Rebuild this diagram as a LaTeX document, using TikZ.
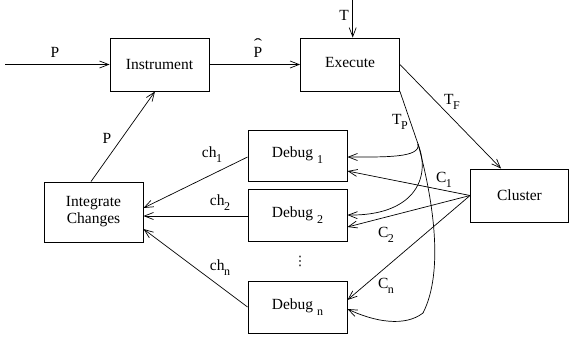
\documentclass[tikz,border=0pt]{standalone}
\usepackage{fontspec}
\usepackage{graphicx}
\setmainfont{Liberation Serif}
\newfontfamily\dvsans{DejaVu Sans}
\usetikzlibrary{arrows.meta,calc}
\newcommand{\lsub}[2]{#1\kern-0.5pt\raisebox{-5pt}{\fontsize{12}{12}\selectfont #2}}
\newcommand{\dsub}[1]{Debug\ \raisebox{-6pt}{\fontsize{12}{12}\selectfont #1}}
\begin{document}
\begin{tikzpicture}[x=1pt,y=-1pt,
  every node/.style={font=\fontsize{15.5}{18}\selectfont},
  box/.style={draw,line width=0.9pt,minimum width=99pt,minimum height=53pt,inner sep=0pt,align=center},
  conn/.style={line width=0.7pt},
  arr/.style={conn,-{Straight Barb[length=9pt,width=7pt]}},
  lab/.style={inner sep=0pt}]
\useasboundingbox (0,0) rectangle (570,341);
\node[box] (inst) at (159.5,64.5) {Instrument};
\node[box] (exec) at (350,64.5) {\raisebox{4pt}{Execute}};
\node[box,minimum width=98pt] (clu) at (519.5,195.5) {Cluster};
\node[box,minimum height=51pt] (d1) at (297.5,155.5) {\dsub{1}};
\node[box,minimum height=52pt] (d2) at (297.5,215) {\dsub{2}};
\node[box,minimum height=52pt] (dn) at (297.5,307) {\dsub{n}};
\node[box,minimum height=60pt] (integ) at (93.5,212) {Integrate\\[-1pt]Changes};
\node[lab] (dots) at (300,261) {\dvsans\fontsize{13}{13}\selectfont ⋮};

\coordinate (in) at (5,64.5);
\coordinate (tin) at (352.7,0);
\coordinate (tp) at (418,144);

\draw[arr] (in) -- (inst.west);
\draw[arr] (inst.east) -- (exec.west);
\draw[arr] (tin) -- (tin |- exec.north);
\draw[arr] (exec.east) -- ([xshift=31pt]clu.north west);
\draw[arr] ([xshift=-2.5pt]integ.north) -- ([xshift=-4.5pt]inst.south);

\draw[arr] ([yshift=-1.5pt]d1.west) -- ([yshift=4pt]integ.east);
\draw[arr] ([yshift=-1pt]d2.west) -- ([yshift=-1pt]d2.west -| integ.east);
\draw[arr] (dn.west) -- ([yshift=-17pt]integ.east);

\draw[arr] (clu.west) -- ([yshift=-15.5pt]d1.east);
\draw[arr] (clu.west) -- ([yshift=-12pt]d2.east);
\draw[arr] (clu.west) -- ([yshift=7pt]dn.east);

\draw[conn] (exec.south east) -- (tp);
\draw[arr] (tp) .. controls (421,158) and (385,157) .. ([yshift=-1.5pt]d1.east);
\draw[arr] (tp) .. controls (432,180) and (412,216) .. (d2.east);
\draw[arr] (tp) .. controls (432,195) and (445,270) .. (423,313)
  .. controls (405,327) and (375,322) .. ([yshift=-2pt]dn.east);

\node[lab] (lp) at (55,52) {P};
\node[lab,anchor=base] (lph) at (258,57) {\ooalign{P\cr\hidewidth\raisebox{8pt}{\scalebox{1.6}[1]{ˆ}}\hidewidth\cr}};
\node[lab] (lt) at (344,15) {T};
\node[lab] (ltf) at (452,102) {\lsub{T}{F}};
\node[lab] (ltp) at (400,122) {\lsub{T}{P}};
\node[lab] (lp2) at (107,138) {P};
\node[lab] (lch1) at (212,155) {\lsub{ch}{1}};
\node[lab] (lch2) at (220,203) {\lsub{ch}{2}};
\node[lab] (lchn) at (220,268) {\lsub{ch}{n}};
\node[lab] (lc1) at (444,180) {\lsub{C}{1}};
\node[lab] (lc2) at (386,235) {\lsub{C}{2}};
\node[lab] (lcn) at (386,286) {\lsub{C}{n}};
\end{tikzpicture}
\end{document}
